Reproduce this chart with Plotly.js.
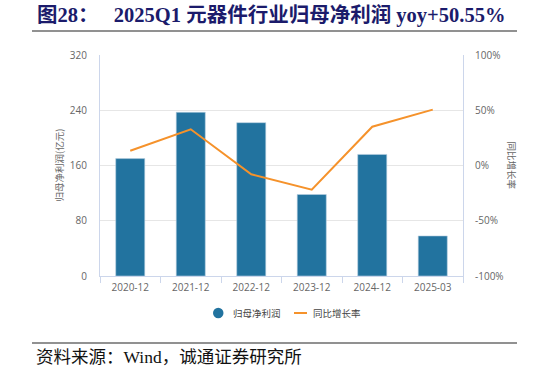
<!DOCTYPE html>
<html><head><meta charset="utf-8">
<script src="https://cdn.plot.ly/plotly-3.0.1.min.js"></script>
<style>html,body{margin:0;padding:0;background:#fff;}#chart{width:547px;height:374px;}</style>
</head><body><div id="chart"></div>
<script>
const categories = ["2020-12","2021-12","2022-12","2023-12","2024-12","2025-03"];
const netProfit = [170, 237, 222, 118, 176, 58];
const yoyGrowth = [13.4, 32.8, -8.0, -21.9, 35.1, 50.55];
const leftTicks = [0, 80, 160, 240, 320];
const rightTicks = [-100, -50, 0, 50, 100];
const rightTickText = ["-100%", "-50%", "0%", "50%", "100%"];
const seriesNames = ["归母净利润", "同比增长率"];

const barColor = "#22739f";
const lineColor = "#f5922b";
const tickFont = {family: "Open Sans, Noto Sans CJK SC, sans-serif", size: 10, color: "#666"};
const cjk = "Noto Sans CJK SC, sans-serif";

const traces = [
  {type: "bar", x: categories, y: netProfit, name: seriesNames[0], marker: {color: barColor, line: {color: "#b8d0e0", width: 0.6}}, yaxis: "y"},
  {type: "scatter", mode: "lines", x: categories, y: yoyGrowth, name: seriesNames[1], line: {color: lineColor, width: 2}, yaxis: "y2"}
];

// pixel -> paper helpers (plot area: x 100..463, y 55..276)
const px = v => (v - 100) / 363;
const py = v => (276 - v) / 221;

const layout = {
  width: 547, height: 374,
  margin: {l: 100, r: 84, t: 55, b: 98},
  paper_bgcolor: "#fff", plot_bgcolor: "#fff",
  bargap: 0.52,
  showlegend: false,
  xaxis: {
    type: "category", tickfont: tickFont, showline: true, linecolor: "#ccd6eb", linewidth: 1,
    ticks: "outside", tickson: "boundaries", ticklen: 6, tickcolor: "#ccd6eb", showgrid: false, ticklabelstandoff: 2
  },
  yaxis: {
    range: [0, 320], tickvals: leftTicks, ticktext: leftTicks.map(String), tickfont: tickFont,
    showgrid: true, gridcolor: "#e6e6e6", gridwidth: 1, zeroline: false,
    showline: true, linecolor: "#ccd6eb", linewidth: 1, ticks: "", ticklabelstandoff: 10
  },
  yaxis2: {
    overlaying: "y", side: "right", range: [-100, 100], tickvals: rightTicks, ticktext: rightTickText,
    tickfont: tickFont, showgrid: false, zeroline: false, showline: true, linecolor: "#ccd6eb", linewidth: 1,
    ticks: "", ticklabelstandoff: 9
  },
  shapes: [
    {type: "line", xref: "paper", yref: "paper", x0: px(32), x1: px(517), y0: py(31), y1: py(31), line: {color: "#6d6d6d", width: 1.5}},
    {type: "line", xref: "paper", yref: "paper", x0: px(32), x1: px(517), y0: py(343), y1: py(343), line: {color: "#6d6d6d", width: 1.5}},
    {type: "circle", xref: "paper", yref: "paper", x0: px(213), x1: px(223.5), y0: py(318.2), y1: py(307.8), fillcolor: barColor, line: {width: 0}},
    {type: "line", xref: "paper", yref: "paper", x0: px(294), x1: px(307), y0: py(313), y1: py(313), line: {color: lineColor, width: 2}}
  ],
  annotations: [
    {xref: "paper", yref: "paper", x: px(35), y: py(15), xanchor: "left", yanchor: "middle", showarrow: false,
     text: "<b>图28：   2025Q1 元器件行业归母净利润 yoy+50.55%</b>",
     font: {family: "Liberation Serif, Noto Sans CJK SC, serif", size: 20.5, color: "#1b1b6b"}},
    {xref: "paper", yref: "paper", x: px(34), y: py(357), xanchor: "left", yanchor: "middle", showarrow: false,
     text: "资料来源：Wind，诚通证券研究所",
     font: {family: "Liberation Serif, Noto Sans CJK SC, serif", size: 17.5, color: "#111"}},
    {xref: "paper", yref: "paper", x: px(58), y: 0.5, xanchor: "center", yanchor: "middle", showarrow: false, textangle: -90,
     text: "归母净利润(亿元)", font: {family: cjk, size: 9.5, color: "#666"}},
    {xref: "paper", yref: "paper", x: px(512), y: 0.5, xanchor: "center", yanchor: "middle", showarrow: false, textangle: 90,
     text: "同比增长率", font: {family: cjk, size: 9.5, color: "#666"}},
    {xref: "paper", yref: "paper", x: px(231), y: py(313), xanchor: "left", yanchor: "middle", showarrow: false,
     text: seriesNames[0], font: {family: cjk, size: 9.5, color: "#444"}},
    {xref: "paper", yref: "paper", x: px(311), y: py(313), xanchor: "left", yanchor: "middle", showarrow: false,
     text: seriesNames[1], font: {family: cjk, size: 9.5, color: "#444"}}
  ]
};

Plotly.newPlot("chart", traces, layout, {displayModeBar: false, staticPlot: true});
</script>
</body></html>
